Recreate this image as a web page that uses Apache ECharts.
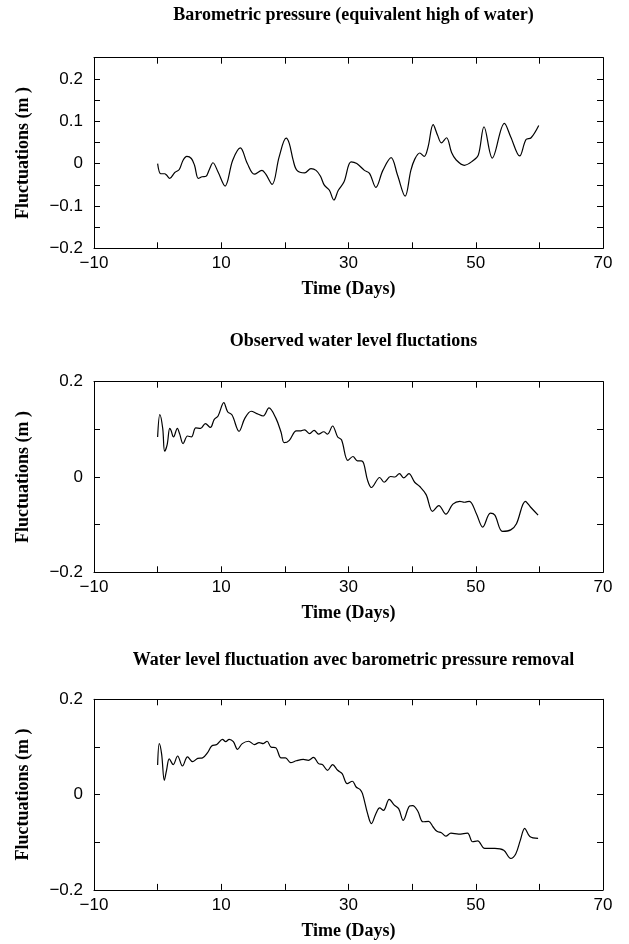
<!DOCTYPE html>
<html><head><meta charset="utf-8">
<script src="https://cdn.jsdelivr.net/npm/echarts@6/dist/echarts.min.js"></script>
<style>html,body{margin:0;padding:0;background:#fff}#c{width:629px;height:944px}</style>
</head><body><div id="c"></div><script>
// ---- data ----
var titles = ['Barometric pressure (equivalent high of water)', 'Observed water level fluctations', 'Water level fluctuation avec barometric pressure removal'];
var xAxisName = 'Time (Days)';
var yAxisName = 'Fluctuations (m )';

var baroDays = [0,0.5,1.1,1.4,1.9,2.7,3.4,4.0,4.6,5.3,5.8,6.4,7.0,7.6,8.1,8.7,9.5,10.6,11.8,13.0,14.1,15.2,16.4,17.0,18.0,19.1,20.2,20.7,21.3,21.9,23.1,24.1,24.9,25.6,26.2,27.0,27.7,28.4,29.3,30.4,31.3,32.5,33.3,34.3,35.4,36.7,37.7,38.9,39.8,40.4,41.2,41.9,42.5,43.3,44.0,44.6,45.4,46.2,46.9,48.2,49.5,50.4,51.3,52.6,54.5,55.5,56.9,57.9,58.7,59.9];
var baroValues = [0,-0.024,-0.024,-0.027,-0.035,-0.021,-0.014,0.008,0.017,0.012,-0.004,-0.035,-0.031,-0.030,-0.015,0.002,-0.020,-0.053,0.008,0.037,0.000,-0.025,-0.016,-0.025,-0.049,0.016,0.060,0.047,0.008,-0.016,-0.022,-0.012,-0.016,-0.030,-0.051,-0.063,-0.086,-0.063,-0.043,0.004,0.000,-0.016,-0.023,-0.056,-0.016,0.014,-0.027,-0.077,-0.016,0.010,0.025,0.017,0.039,0.092,0.067,0.049,0.061,0.026,0.009,-0.004,0.006,0.020,0.087,0.013,0.095,0.063,0.018,0.057,0.061,0.090];

var obsDays = [0,0.35,0.8,1.1,1.5,1.9,2.1,2.5,3.1,3.45,4.0,4.7,5.3,6.0,6.75,7.5,8.3,8.9,9.5,10.4,11.0,11.7,12.8,13.7,14.7,15.6,16.6,17.5,18.6,19.4,19.9,20.7,21.8,22.5,23.1,23.9,24.6,25.3,26.1,26.7,27.5,28.3,28.9,29.9,30.7,31.4,32.0,32.4,33.0,33.6,34.9,35.6,36.6,37.3,38.0,38.7,39.5,40.4,41.2,42.2,43.2,44.2,45.3,46.4,47.5,48.2,49.0,50.1,51.1,52.3,53.0,54.2,55.5,56.4,57.8,58.6,59.8];
var obsValues = [0.084,0.131,0.102,0.054,0.068,0.102,0.098,0.084,0.102,0.091,0.070,0.086,0.084,0.103,0.102,0.112,0.104,0.121,0.128,0.156,0.137,0.130,0.096,0.123,0.138,0.133,0.128,0.145,0.123,0.094,0.072,0.077,0.097,0.097,0.099,0.091,0.098,0.090,0.095,0.090,0.107,0.084,0.078,0.035,0.043,0.034,0.034,0.028,-0.007,-0.022,-0.001,-0.011,0.001,0.000,0.007,-0.002,0.007,-0.011,-0.020,-0.037,-0.072,-0.060,-0.078,-0.057,-0.051,-0.053,-0.051,-0.077,-0.105,-0.076,-0.080,-0.114,-0.111,-0.098,-0.051,-0.063,-0.080];

var remDays = [0,0.26,0.63,1.05,1.4,1.83,2.45,3.14,3.9,4.7,5.5,6.3,7.06,7.85,8.5,9.3,10.2,10.7,11.25,11.9,12.56,13.3,14.3,15.2,15.95,16.6,17.2,17.8,18.6,19.4,20.1,20.9,21.8,22.9,23.7,24.5,25.3,25.9,26.7,27.5,28.3,29.0,29.8,30.6,31.2,31.8,32.2,33.0,33.6,34.3,34.9,35.5,36.4,37.2,37.9,38.6,39.6,40.1,40.9,41.7,42.6,43.3,43.9,44.6,45.3,46.1,47.3,48.7,49.5,50.3,51.4,53.0,54.4,55.5,56.3,57.0,57.7,58.5,59.8];
var remValues = [0.062,0.107,0.085,0.030,0.051,0.075,0.063,0.081,0.060,0.079,0.069,0.076,0.077,0.088,0.102,0.105,0.116,0.111,0.116,0.111,0.095,0.107,0.112,0.105,0.109,0.107,0.112,0.100,0.098,0.077,0.077,0.067,0.071,0.074,0.072,0.078,0.065,0.063,0.051,0.063,0.051,0.044,0.023,0.028,0.016,0.011,0.002,-0.040,-0.061,-0.040,-0.028,-0.033,-0.010,-0.022,-0.030,-0.054,-0.024,-0.023,-0.035,-0.057,-0.056,-0.068,-0.077,-0.080,-0.087,-0.081,-0.083,-0.081,-0.099,-0.097,-0.113,-0.113,-0.117,-0.134,-0.124,-0.096,-0.071,-0.088,-0.092];

var xRange = [-10, 70];
var yRanges = [[-0.2, 0.25], [-0.2, 0.2], [-0.2, 0.2]];
var yTickSteps = [0.05, 0.1, 0.1];
var yLabelSteps = [0.1, 0.2, 0.2];

// ---- layout ----
var gridTops = [57.7, 381.7, 699.3];
var gridHeight = 190.6;
var gridLeft = 94, gridWidth = 509;
var titleTops = [1, 327.5, 646];

function numLabel(v) {
  var r = Math.round(v * 10) / 10;
  if (Math.abs(r) < 1e-9) return '0';
  return (r < 0 ? '\u2212' : '') + String(Math.abs(r));
}
function fmtX(v) {
  var r = Math.round(v);
  if (Math.abs(r % 20) === 10) return (r < 0 ? '\u2212' : '') + Math.abs(r);
  return '';
}
function mkYFmt(step) {
  return function (v) {
    var k = v / step;
    if (Math.abs(k - Math.round(k)) < 1e-6) return numLabel(v);
    return '';
  };
}

var sansFont = 'Liberation Sans';
var serifFont = 'Liberation Serif';
var blk = '#000';
var series = [[baroDays, baroValues], [obsDays, obsValues], [remDays, remValues]];

var option = {
  animation: false,
  backgroundColor: '#fff',
  title: [], grid: [], xAxis: [], yAxis: [], series: []
};

for (var i = 0; i < 3; i++) {
  option.title.push({
    text: titles[i], left: gridLeft + gridWidth / 2, top: titleTops[i], textAlign: 'center',
    textStyle: { fontFamily: serifFont, fontWeight: 'bold', fontSize: 18, color: blk }
  });
  option.grid.push({ left: gridLeft, width: gridWidth, top: gridTops[i], height: gridHeight, containLabel: false });
  var tickCommon = { show: true, inside: true, length: 6, lineStyle: { color: blk, width: 1 } };
  var lineCommon = { show: true, onZero: false, lineStyle: { color: blk, width: 1 } };
  option.xAxis.push({
    type: 'value', gridIndex: i, position: 'bottom', min: xRange[0], max: xRange[1], interval: 10,
    axisLine: lineCommon, axisTick: tickCommon, splitLine: { show: false },
    axisLabel: { formatter: fmtX, fontFamily: sansFont, fontSize: 17, color: blk, margin: 7, showMinLabel: true, showMaxLabel: true },
    name: xAxisName, nameLocation: 'middle', nameGap: 32,
    nameTextStyle: { fontFamily: serifFont, fontWeight: 'bold', fontSize: 18, color: blk }
  });
  option.xAxis.push({
    type: 'value', gridIndex: i, position: 'top', min: xRange[0], max: xRange[1], interval: 10,
    axisLine: lineCommon, axisTick: tickCommon, splitLine: { show: false }, axisLabel: { show: false }
  });
  option.yAxis.push({
    type: 'value', gridIndex: i, position: 'left', min: yRanges[i][0], max: yRanges[i][1], interval: yTickSteps[i],
    axisLine: lineCommon, axisTick: tickCommon, splitLine: { show: false },
    axisLabel: { formatter: mkYFmt(yLabelSteps[i]), fontFamily: sansFont, fontSize: 17, color: blk, margin: 11, showMinLabel: true, showMaxLabel: true },
    name: yAxisName, nameLocation: 'middle', nameGap: 62, nameRotate: 90,
    nameTextStyle: { fontFamily: serifFont, fontWeight: 'bold', fontSize: 18, color: blk }
  });
  option.yAxis.push({
    type: 'value', gridIndex: i, position: 'right', min: yRanges[i][0], max: yRanges[i][1], interval: yTickSteps[i],
    axisLine: lineCommon, axisTick: tickCommon, splitLine: { show: false }, axisLabel: { show: false }
  });
  var d = series[i][0].map(function (x, j) { return [x, series[i][1][j]]; });
  option.series.push({
    type: 'line', xAxisIndex: 2 * i, yAxisIndex: 2 * i, data: d, showSymbol: false, smooth: 0.35,
    lineStyle: { color: blk, width: 1.2 }, silent: true
  });
}

var chart = echarts.init(document.getElementById('c'), null, { renderer: 'canvas' });
chart.setOption(option);
</script></body></html>
